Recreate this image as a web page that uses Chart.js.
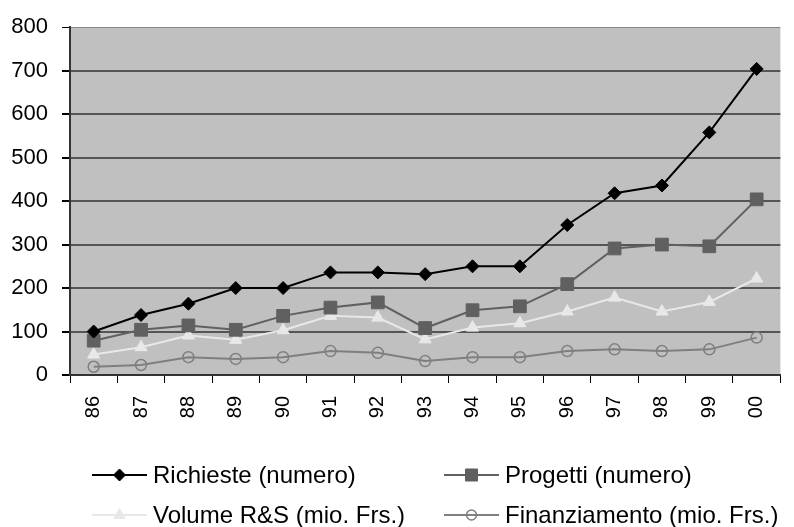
<!DOCTYPE html>
<html>
<head>
<meta charset="utf-8">
<script src="https://cdn.jsdelivr.net/npm/chart.js@4/dist/chart.umd.min.js"></script>
<style>
  html, body { margin: 0; padding: 0; background: #fff; }
  #wrap { width: 794px; height: 527px; }
</style>
</head>
<body>
<div id="wrap"><canvas id="chart" width="794" height="527"></canvas></div>
<script>
// years on the category axis
const years = ['86', '87', '88', '89', '90', '91', '92', '93', '94', '95', '96', '97', '98', '99', '00'];

// series
const richieste = [100, 138, 164, 200, 200, 236, 236, 232, 250, 250, 345, 418, 436, 558, 704];
const progetti = [79, 104, 114, 104, 136, 155, 167, 108, 149, 158, 209, 291, 300, 296, 404];
const volumeRS = [47, 64, 91, 81, 103, 136, 132, 82, 109, 119, 146, 178, 146, 168, 222];
const finanziamento = [19, 23, 41, 37, 41, 55, 51, 32, 41, 41, 55, 59, 55, 59, 86];

const seriesNames = ['Richieste (numero)', 'Progetti (numero)', 'Volume R&S (mio. Frs.)', 'Finanziamento (mio. Frs.)'];
const yTicks = [0, 100, 200, 300, 400, 500, 600, 700, 800];

const FONT = "'Liberation Sans', Arial, sans-serif";

// grey plot background
const plotBackground = {
    id: 'plotBackground',
    beforeDraw(chart) {
        const { ctx, chartArea: a } = chart;
        ctx.save();
        ctx.fillStyle = '#c0c0c0';
        ctx.fillRect(a.left, a.top, a.right - a.left, a.bottom - a.top);
        ctx.restore();
    }
};

// legend with line + marker, two columns
const legendRadius = [6, 8.5, 6.5, 5];
const lineLegend = {
    id: 'lineLegend',
    afterDraw(chart) {
        const ctx = chart.ctx;
        const cols = [92, 444];
        const rows = [475, 515];
        ctx.save();
        chart.data.datasets.forEach((ds, i) => {
            const x = cols[i % 2];
            const y = rows[Math.floor(i / 2)];
            ctx.strokeStyle = ds.borderColor;
            ctx.lineWidth = 2;
            ctx.beginPath();
            ctx.moveTo(x, y);
            ctx.lineTo(x + 55, y);
            ctx.stroke();
            ctx.fillStyle = ds.pointBackgroundColor;
            ctx.strokeStyle = ds.pointBorderColor;
            ctx.lineWidth = ds.pointBorderWidth;
            if (Chart.helpers && Chart.helpers.drawPoint) {
                Chart.helpers.drawPoint(ctx, {
                    pointStyle: ds.pointStyle,
                    radius: legendRadius[i],
                    rotation: 0,
                    borderWidth: ds.pointBorderWidth
                }, x + 27.5, y);
            }
            ctx.fillStyle = '#000';
            ctx.font = '24px ' + FONT;
            ctx.textBaseline = 'middle';
            ctx.textAlign = 'left';
            ctx.fillText(ds.label, x + 61, y + 1);
        });
        ctx.restore();
    }
};

const ctx = document.getElementById('chart').getContext('2d');
new Chart(ctx, {
    type: 'line',
    data: {
        labels: years,
        datasets: [{
            label: seriesNames[0],
            data: richieste,
            borderColor: '#000000',
            borderWidth: 2,
            pointStyle: 'rectRot',
            pointRadius: 6.5,
            pointBackgroundColor: '#000000',
            pointBorderColor: '#000000',
            pointBorderWidth: 1
        }, {
            label: seriesNames[1],
            data: progetti,
            borderColor: '#606060',
            borderWidth: 2,
            pointStyle: 'rect',
            pointRadius: 9,
            pointBackgroundColor: '#606060',
            pointBorderColor: '#606060',
            pointBorderWidth: 1
        }, {
            label: seriesNames[2],
            data: volumeRS,
            borderColor: '#e8e8e8',
            borderWidth: 2,
            pointStyle: 'triangle',
            pointRadius: 7,
            pointBackgroundColor: '#e8e8e8',
            pointBorderColor: '#e8e8e8',
            pointBorderWidth: 1
        }, {
            label: seriesNames[3],
            data: finanziamento,
            borderColor: '#7f7f7f',
            borderWidth: 2,
            pointStyle: 'circle',
            pointRadius: 5.5,
            pointBackgroundColor: 'rgba(0,0,0,0)',
            pointBorderColor: '#7f7f7f',
            pointBorderWidth: 1.5
        }]
    },
    options: {
        responsive: false,
        animation: false,
        devicePixelRatio: 1,
        layout: { padding: { top: 22, right: 1, left: 0, bottom: 0 } },
        plugins: {
            legend: { display: false },
            tooltip: { enabled: false }
        },
        elements: { line: { tension: 0 } },
        scales: {
            x: {
                offset: true,
                afterFit: scale => { scale.height = 152; },
                border: { color: '#333333', width: 2 },
                grid: {
                    offset: true,
                    drawOnChartArea: false,
                    drawTicks: true,
                    tickLength: 8,
                    color: '#000000',
                    lineWidth: 1
                },
                ticks: {
                    minRotation: 90,
                    maxRotation: 90,
                    autoSkip: false,
                    padding: 13,
                    color: '#000000',
                    font: { family: FONT, size: 20 }
                }
            },
            y: {
                min: 0,
                max: 800,
                afterFit: scale => { scale.width = 70; },
                afterBuildTicks: scale => { scale.ticks = yTicks.map(v => ({ value: v })); },
                border: { color: '#333333', width: 2 },
                grid: {
                    drawTicks: true,
                    tickLength: 8,
                    color: c => (c.tick && c.tick.value === 800) ? '#888888' : '#555555',
                    lineWidth: c => (c.tick && c.tick.value === 800) ? 1 : 2,
                    tickColor: '#000000'
                },
                ticks: {
                    padding: 14,
                    color: '#000000',
                    font: { family: FONT, size: 22 }
                }
            }
        }
    },
    plugins: [plotBackground, lineLegend]
});
</script>
</body>
</html>
